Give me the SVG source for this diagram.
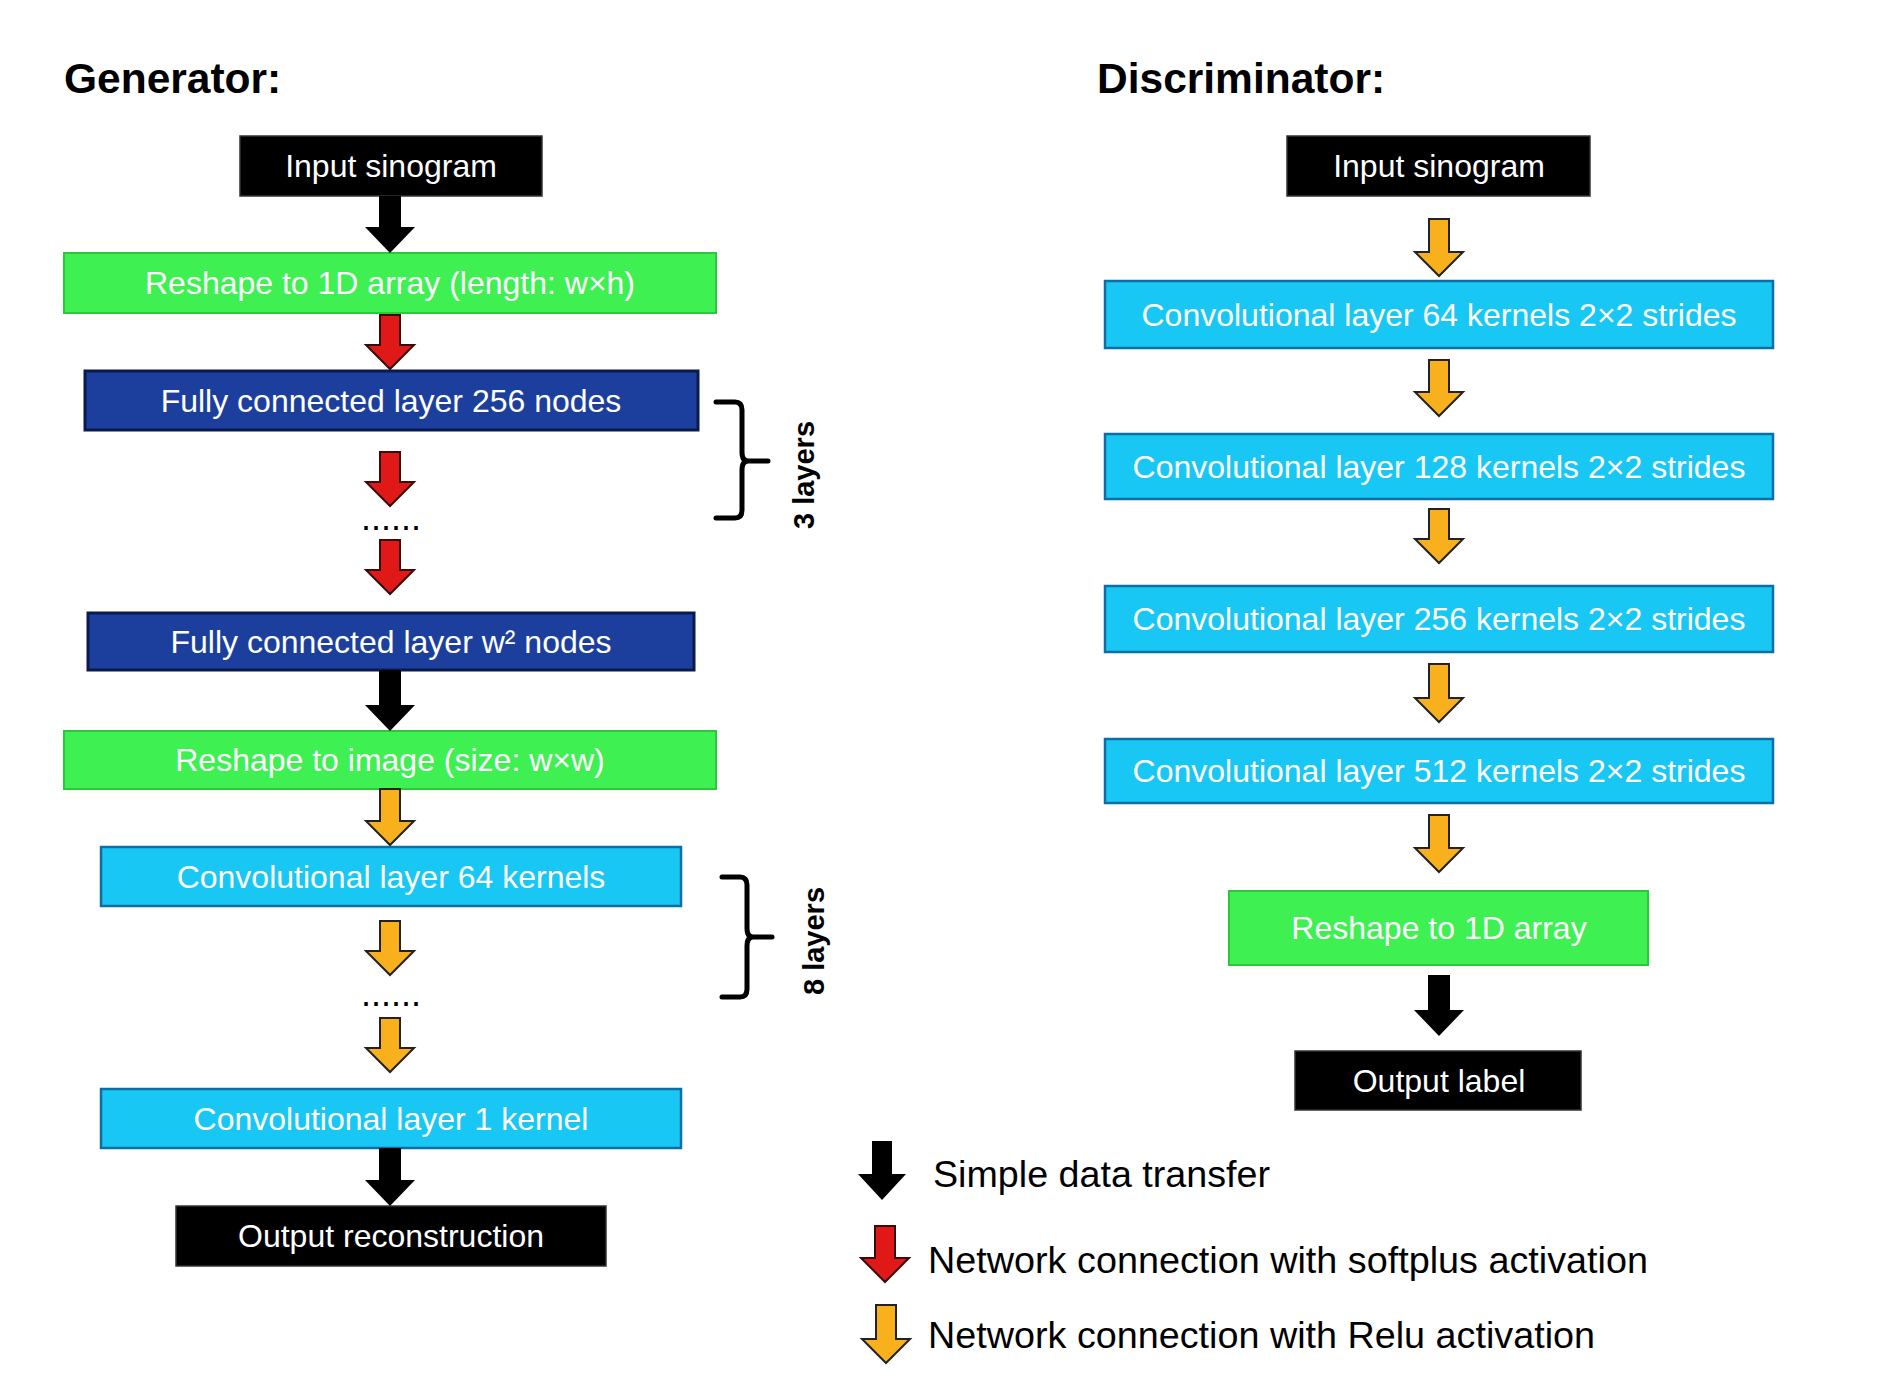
<svg xmlns="http://www.w3.org/2000/svg" width="1900" height="1392" viewBox="0 0 1900 1392">
<style>
.t{font-family:"Liberation Sans",Arial,sans-serif;font-size:32px;fill:#fff;text-anchor:middle}
.title{font-family:"Liberation Sans",Arial,sans-serif;font-size:42.5px;font-weight:bold;fill:#000}
.lg{font-family:"Liberation Sans",Arial,sans-serif;font-size:36px;fill:#000}
.lay{font-family:"Liberation Sans",Arial,sans-serif;font-size:29px;font-weight:bold;fill:#000;text-anchor:middle}
.dots{font-family:"Liberation Sans",Arial,sans-serif;font-size:36px;fill:#000;text-anchor:middle}
.blk{fill:#000;stroke:#333;stroke-width:1.5}
.grn{fill:#3ef052;stroke:#2bc83c;stroke-width:2}
.dbl{fill:#1c3f9e;stroke:#0a1a4e;stroke-width:3}
.cyn{fill:#19c7f5;stroke:#0b6fa6;stroke-width:2.5}
.ab{fill:#000}
.ar{fill:#e01818;stroke:#3a0a0a;stroke-width:2}
.ao{fill:#f8b11c;stroke:#222;stroke-width:2}
.br{fill:none;stroke:#000;stroke-width:5;stroke-linecap:round;stroke-linejoin:round}
</style>
<rect width="1900" height="1392" fill="#fff"/>
<text class="title" x="64" y="93">Generator:</text>
<text class="title" x="1097" y="93">Discriminator:</text>

<g id="g_input"><rect class="blk" x="240" y="136" width="302" height="60"/><text class="t" x="391" y="177">Input sinogram</text></g>
<g id="g_reshape1"><rect class="grn" x="64" y="253" width="652" height="60"/><text class="t" x="390" y="294">Reshape to 1D array (length: w×h)</text></g>
<g id="g_fc256"><rect class="dbl" x="85" y="371" width="613" height="59"/><text class="t" x="391" y="412">Fully connected layer 256 nodes</text></g>
<g id="g_fcw2"><rect class="dbl" x="88" y="613" width="606" height="57"/><text class="t" x="391" y="653">Fully connected layer w² nodes</text></g>
<g id="g_reshape2"><rect class="grn" x="64" y="731" width="652" height="58"/><text class="t" x="390" y="771">Reshape to image (size: w×w)</text></g>
<g id="g_conv64"><rect class="cyn" x="101" y="847" width="580" height="59"/><text class="t" x="391" y="888">Convolutional layer 64 kernels</text></g>
<g id="g_conv1"><rect class="cyn" x="101" y="1089" width="580" height="59"/><text class="t" x="391" y="1130">Convolutional layer 1 kernel</text></g>
<g id="g_output"><rect class="blk" x="176" y="1206" width="430" height="60"/><text class="t" x="391" y="1247">Output reconstruction</text></g>

<g id="d_input"><rect class="blk" x="1287" y="136" width="303" height="60"/><text class="t" x="1439" y="177">Input sinogram</text></g>
<g id="d_conv64"><rect class="cyn" x="1105" y="281" width="668" height="67"/><text class="t" x="1439" y="326">Convolutional layer 64 kernels 2×2 strides</text></g>
<g id="d_conv128"><rect class="cyn" x="1105" y="434" width="668" height="65"/><text class="t" x="1439" y="478">Convolutional layer 128 kernels 2×2 strides</text></g>
<g id="d_conv256"><rect class="cyn" x="1105" y="586" width="668" height="66"/><text class="t" x="1439" y="630">Convolutional layer 256 kernels 2×2 strides</text></g>
<g id="d_conv512"><rect class="cyn" x="1105" y="739" width="668" height="64"/><text class="t" x="1439" y="782">Convolutional layer 512 kernels 2×2 strides</text></g>
<g id="d_reshape"><rect class="grn" x="1229" y="891" width="419" height="74"/><text class="t" x="1439" y="939">Reshape to 1D array</text></g>
<g id="d_output"><rect class="blk" x="1295" y="1051" width="286" height="59"/><text class="t" x="1439" y="1092">Output label</text></g>

<g id="connectors">
<path class="ab" d="M379,196 H401 V227 H415 L390,253 L365,227 H379 Z"/>
<path class="ar" d="M380,315 H400 V345 H414 L390,369 L366,345 H380 Z"/>
<path class="ar" d="M380,452 H400 V482 H414 L390,506 L366,482 H380 Z"/>
<path class="ar" d="M380,540 H400 V570 H414 L390,594 L366,570 H380 Z"/>
<path class="ab" d="M379,670 H401 V705 H415 L390,731 L365,705 H379 Z"/>
<path class="ao" d="M380,789 H400 V821 H414 L390,845 L366,821 H380 Z"/>
<path class="ao" d="M380,921 H400 V951 H414 L390,975 L366,951 H380 Z"/>
<path class="ao" d="M380,1018 H400 V1048 H414 L390,1072 L366,1048 H380 Z"/>
<path class="ab" d="M379,1148 H401 V1180 H415 L390,1206 L365,1180 H379 Z"/>
<path class="ao" d="M1429,219 H1449 V252 H1463 L1439,276 L1415,252 H1429 Z"/>
<path class="ao" d="M1429,360 H1449 V392 H1463 L1439,416 L1415,392 H1429 Z"/>
<path class="ao" d="M1429,509 H1449 V539 H1463 L1439,563 L1415,539 H1429 Z"/>
<path class="ao" d="M1429,664 H1449 V698 H1463 L1439,722 L1415,698 H1429 Z"/>
<path class="ao" d="M1429,815 H1449 V848 H1463 L1439,872 L1415,848 H1429 Z"/>
<path class="ab" d="M1428,975 H1450 V1010 H1464 L1439,1036 L1414,1010 H1428 Z"/>
</g>

<text class="dots" x="391" y="530">......</text>
<text class="dots" x="391" y="1006">......</text>

<g id="brace3">
<path class="br" d="M716,402 L735,402 Q742,402 742,410 L742,452 Q742,461 748,461 L768,461 M748,461 Q742,461 742,470 L742,510 Q742,518 735,518 L716,518"/>
<text class="lay" transform="translate(804,475) rotate(-90)" dominant-baseline="central">3 layers</text>
</g>
<g id="brace8">
<path class="br" d="M722,877 L740,877 Q747,877 747,885 L747,928 Q747,937 753,937 L772,937 M753,937 Q747,937 747,946 L747,989 Q747,997 740,997 L722,997"/>
<text class="lay" transform="translate(814,941) rotate(-90)" dominant-baseline="central">8 layers</text>
</g>

<g id="legend">
<path class="ab" d="M872,1141 H892 V1174 H906 L882,1200 L858,1174 H872 Z"/>
<text class="lg" x="933" y="1187" textLength="337" lengthAdjust="spacingAndGlyphs">Simple data transfer</text>
<path class="ar" d="M875,1226 H895 V1258 H909 L885,1282 L861,1258 H875 Z"/>
<text class="lg" x="928" y="1273" textLength="720" lengthAdjust="spacingAndGlyphs">Network connection with softplus activation</text>
<path class="ao" d="M876,1305 H896 V1339 H910 L886,1363 L862,1339 H876 Z"/>
<text class="lg" x="928" y="1348" textLength="667" lengthAdjust="spacingAndGlyphs">Network connection with Relu activation</text>
</g>
</svg>
